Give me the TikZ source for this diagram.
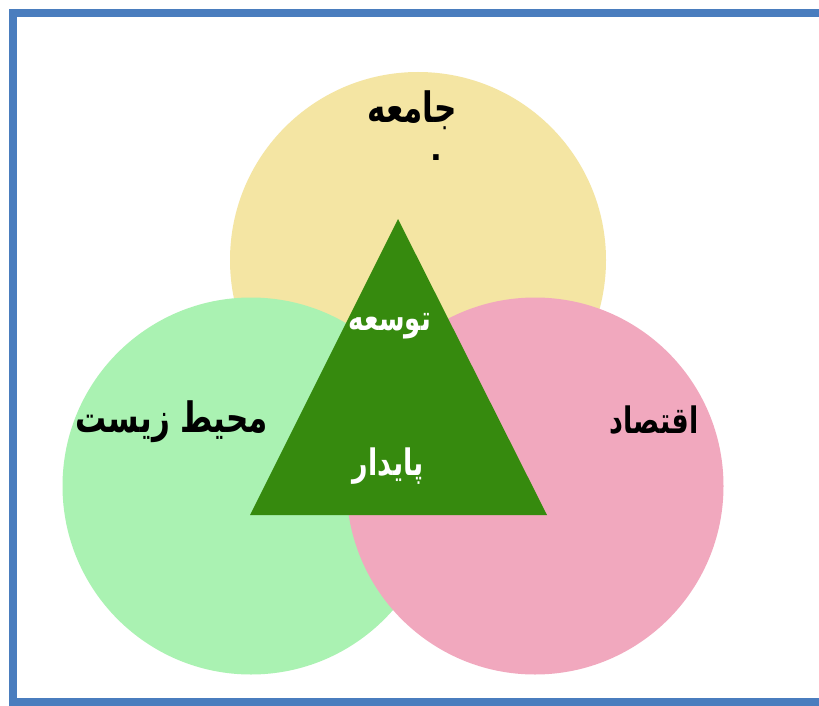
\documentclass[tikz,border=0pt]{standalone}
\usepackage{fontspec}
\newfontfamily\arabicfont[Script=Arabic]{DejaVu Sans}
\TeXXeTstate=1
\usetikzlibrary{positioning}
\definecolor{frameblue}{RGB}{74,125,190}
\definecolor{softyellow}{RGB}{244,229,163}
\definecolor{softgreen}{RGB}{170,242,178}
\definecolor{softpink}{RGB}{241,168,190}
\definecolor{darkgreen}{RGB}{54,138,14}
\newcommand{\rtltext}[1]{\scalebox{1}[1.35]{\beginR #1\endR}}

\begin{document}
\begin{tikzpicture}[x=1pt,y=-1pt, every node/.style={inner sep=0pt,font=\arabicfont\bfseries\fontsize{31}{38}\selectfont}]
  \useasboundingbox (0,0) rectangle (819,706);
  \fill[white] (0,0) rectangle (819,706);
  \draw[frameblue,line width=8pt] (12.5,13.5) rectangle (840,702);
  % the three spheres
  \node[circle,fill=softyellow,minimum size=376pt] (soc) at (418,260) {};
  \node[circle,fill=softgreen,minimum size=377pt] (env) at (251,486) {};
  \node[circle,fill=softpink,minimum size=377pt] (eco) at (535,486) {};
  % triangle in the middle
  \coordinate (apex) at (398,219);
  \coordinate (bl) at (250,515);
  \coordinate (br) at (547,515);
  \fill[darkgreen] (apex) -- (bl) -- (br) -- cycle;
  \node (socl) at (412,110) {\rtltext{جامعه}};
  \node (socdot) at (436,158) {.};
  \node (envl) at (172,422) {\rtltext{محیط زیست}};
  \node[font=\arabicfont\bfseries\fontsize{27}{34}\selectfont] (ecol) at (654,420) {\rtltext{اقتصاد}};
  \node[text=white,font=\arabicfont\bfseries\fontsize{26}{32}\selectfont] (top) at (390,326) {\rtltext{توسعه}};
  \node[text=white,font=\arabicfont\bfseries\fontsize{27}{32}\selectfont] (bot) at (388,466) {\rtltext{پایدار}};
\end{tikzpicture}
\end{document}
